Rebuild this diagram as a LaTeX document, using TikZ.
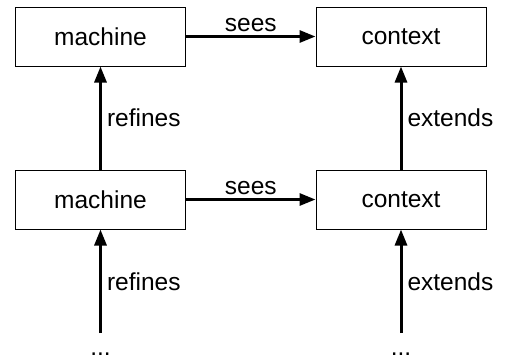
\documentclass[tikz,border=0pt]{standalone}
\usepackage{fontspec}
\setmainfont{Liberation Sans}
\usetikzlibrary{arrows.meta}
\tikzset{
	box/.style = {draw, line width = 1pt, minimum width = 170pt, minimum height = 59pt, inner sep = 0pt},
	link/.style = {line width = 3pt, -{Triangle[length = 16pt, width = 12pt]}},
	lbl/.style = {inner sep = 5pt}
}
\begin{document}
\begin{tikzpicture}[x = 1pt, y = -1pt, font = \fontsize{24.5}{29}\selectfont]
\useasboundingbox (0,0) rectangle (510,362);
\node[box] (m1) at (100.5,36.5) {machine};
\node[box] (c1) at (401,36.5) {context};
\node[box] (m0) at (100.5,199.5) {machine};
\node[box] (c0) at (401,199.5) {context};
\coordinate (ms) at (100.5,333);
\coordinate (cs) at (401,333);
\node[anchor = base] (md) at (100.5,355) {...};
\node[anchor = base] (cd) at (401,355) {...};
\foreach \a / \b in {m1/c1, m0/c0}
	\draw[link] (\a) -- (\b) node[midway, above, inner sep = 3pt] {sees};
\foreach \a / \b in {m0/m1, ms/m0}
	\draw[link] (\a) -- (\b.south) node[midway, right, lbl] {refines};
\foreach \a / \b in {c0/c1, cs/c0}
	\draw[link] (\a) -- (\b.south) node[midway, right, lbl] {extends};
\end{tikzpicture}
\end{document}
